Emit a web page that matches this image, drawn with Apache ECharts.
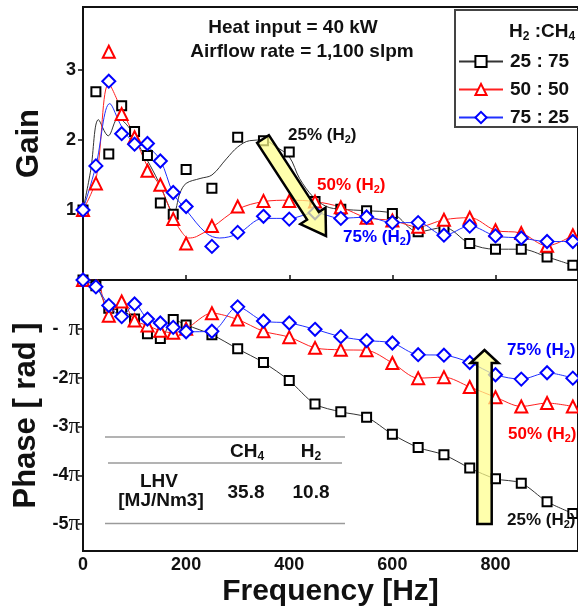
<!DOCTYPE html>
<html>
<head>
<meta charset="utf-8">
<script src="https://cdn.jsdelivr.net/npm/echarts@6/dist/echarts.min.js"></script>
<style>
  html, body { margin: 0; padding: 0; background: #fff; }
  #chart { width: 578px; height: 613px; }
</style>
</head>
<body>
<div id="chart"></div>
<script>
// Measured frequencies [Hz]
const freqs = [0, 25, 50, 75, 100, 125, 150, 175, 200, 250, 300, 350, 400, 450, 500, 550, 600, 650, 700, 750, 800, 850, 900, 950];

// Flame transfer function gain, one array per H2:CH4 ratio
const gain25 = [1.00, 2.69, 1.80, 2.49, 2.12, 1.78, 1.10, 0.94, 1.58, 1.31, 2.04, 1.99, 1.83, 1.12, 1.01, 0.99, 0.95, 0.69, 0.75, 0.52, 0.44, 0.44, 0.33, 0.21];
const gain50 = [1.00, 1.38, 3.26, 2.37, 2.04, 1.56, 1.36, 0.87, 0.52, 0.77, 1.05, 1.13, 1.13, 1.12, 1.04, 0.89, 0.85, 0.76, 0.86, 0.89, 0.71, 0.67, 0.49, 0.64];
const gain75 = [1.00, 1.63, 2.84, 2.09, 1.94, 1.95, 1.70, 1.25, 1.05, 0.48, 0.68, 0.91, 0.87, 0.96, 0.88, 0.90, 0.82, 0.82, 0.64, 0.77, 0.63, 0.60, 0.55, 0.55];

// Phase, in multiples of pi
const phase25 = [0, -0.12, -0.58, -0.62, -0.80, -1.10, -1.20, -0.81, -0.92, -1.12, -1.41, -1.69, -2.06, -2.54, -2.70, -2.81, -3.16, -3.43, -3.58, -3.85, -4.07, -4.16, -4.54, -4.78];
const phase50 = [0, 0.03, -0.73, -0.44, -0.83, -0.93, -1.04, -1.08, -1.00, -0.68, -0.81, -1.05, -1.17, -1.39, -1.43, -1.44, -1.70, -2.01, -1.99, -2.19, -2.40, -2.59, -2.52, -2.59];
const phase75 = [0, -0.14, -0.52, -0.75, -0.49, -0.80, -0.88, -0.97, -1.06, -1.05, -0.55, -0.84, -0.88, -1.01, -1.16, -1.24, -1.29, -1.53, -1.54, -1.69, -1.94, -2.03, -1.90, -2.01];

// Low-frequency fitted gain curves (the fit hands over to the measured points above fitEnd)
const fitFreq25 = [0, 15, 30, 49, 68, 90, 113, 130, 150, 168, 176, 188, 200, 227, 250, 278, 300, 323, 349, 375, 400, 420, 446, 472];
const fitGain25 = [1.00, 1.57, 2.29, 2.06, 2.31, 2.17, 1.86, 1.64, 1.35, 1.03, 0.96, 1.24, 1.38, 1.45, 1.50, 1.73, 1.90, 1.99, 2.00, 1.90, 1.76, 1.45, 1.19, 1.05];
const fitFreq50 = [0, 25, 50, 75, 100, 125, 150, 175, 190, 205, 220, 250, 300, 350, 400, 450];
const fitGain50 = [1.00, 1.43, 2.80, 2.43, 2.05, 1.62, 1.33, 0.90, 0.70, 0.60, 0.62, 0.75, 1.01, 1.12, 1.14, 1.12];
const fitFreq75 = [0, 25, 52, 75, 100, 125, 150, 175, 200, 239, 265, 300, 350, 400, 450];
const fitGain75 = [1.00, 1.63, 2.52, 2.19, 1.95, 1.90, 1.71, 1.24, 1.00, 0.67, 0.60, 0.66, 0.88, 0.88, 0.96];
const fitEnd = [472, 450, 450];

const seriesNames = ['25 : 75', '50 : 50', '75 : 25'];
const colors = ['#000000', '#ff0000', '#0000ff'];
const lineColors = ['#333333', '#ff2020', '#2030ff'];
const symbols = ['rect', 'triangle', 'diamond'];
const symbolSizes = [9, 12, 13];

const pairs = (xs, ys) => xs.map((x, i) => [x, ys[i]]);
const gains = [gain25, gain50, gain75];
const phases = [phase25, phase50, phase75];
const fits = [pairs(fitFreq25, fitGain25), pairs(fitFreq50, fitGain50), pairs(fitFreq75, fitGain75)];

const FONT = '"Liberation Sans", Arial, sans-serif';
const SERIF = '"Liberation Serif", "Times New Roman", serif';

const series = [];
// Phase lines with markers (first, so the legend takes its icons from them)
for (let k = 0; k < 3; k++) {
  series.push({
    name: seriesNames[k], type: 'line', xAxisIndex: 1, yAxisIndex: 1,
    data: pairs(freqs, phases[k]), smooth: 0.3,
    symbol: symbols[k], symbolSize: symbolSizes[k], showAllSymbol: true,
    lineStyle: { color: lineColors[k], width: 1 },
    itemStyle: { color: '#ffffff', borderColor: colors[k], borderWidth: 2 },
    z: 3 + k
  });
}
// Gain: fitted curve joined to the measured points
for (let k = 0; k < 3; k++) {
  const tail = pairs(freqs, gains[k]).filter(p => p[0] > fitEnd[k]);
  series.push({
    name: seriesNames[k], type: 'line', xAxisIndex: 0, yAxisIndex: 0,
    data: fits[k].concat(tail), smooth: 0.35, showSymbol: false,
    lineStyle: { color: lineColors[k], width: 1 }, z: 2
  });
}
// Gain: measured points
for (let k = 0; k < 3; k++) {
  series.push({
    name: seriesNames[k], type: 'scatter', xAxisIndex: 0, yAxisIndex: 0,
    data: pairs(freqs, gains[k]),
    symbol: symbols[k], symbolSize: symbolSizes[k],
    itemStyle: { color: '#ffffff', borderColor: colors[k], borderWidth: 2, opacity: 1 },
    z: 3 + k
  });
}

const tickLabel = { fontFamily: FONT, fontWeight: 'bold', fontSize: 18, color: '#111' };

// Text "NN% (H2)" with subscript
function pctLabel(x, y, pct, color) {
  return {
    type: 'text', left: x, top: y - 10, z: 20,
    style: {
      text: '{t|' + pct + '% (H}{s|2}{t|)}',
      rich: {
        t: { fontFamily: FONT, fontWeight: 'bold', fontSize: 17, fill: color, lineHeight: 20 },
        s: { fontFamily: FONT, fontWeight: 'bold', fontSize: 11, fill: color, lineHeight: 13, verticalAlign: 'bottom' }
      }
    }
  };
}

// Block arrow polygon from tail (sx,sy) to tip (tx,ty)
function arrowPoints(sx, sy, tx, ty, half, headHalf, headLen) {
  const dx = tx - sx, dy = ty - sy, L = Math.hypot(dx, dy);
  const ux = dx / L, uy = dy / L, nx = uy, ny = -ux;
  const bx = tx - headLen * ux, by = ty - headLen * uy;
  return [
    [sx + half * nx, sy + half * ny], [bx + half * nx, by + half * ny],
    [bx + headHalf * nx, by + headHalf * ny], [tx, ty],
    [bx - headHalf * nx, by - headHalf * ny], [bx - half * nx, by - half * ny],
    [sx - half * nx, sy - half * ny]
  ];
}
const arrowStyle = { fill: 'rgba(255,255,140,0.72)', stroke: '#000', lineWidth: 2.5, lineJoin: 'miter' };

const tableText = (x, y, txt, extra) => ({
  type: 'text', x: x, y: y, z: 20,
  style: Object.assign({ text: txt, fontFamily: FONT, fontWeight: 'bold', fontSize: 19, fill: '#111', align: 'center', verticalAlign: 'middle' }, extra || {})
});
const tableLine = (x1, x2, y) => ({
  type: 'line', z: 15, shape: { x1: x1, y1: y, x2: x2, y2: y }, style: { stroke: '#9a9a9a', lineWidth: 1.5 }
});
const subRich = {
  b: { fontFamily: FONT, fontWeight: 'bold', fontSize: 19, fill: '#111', lineHeight: 22 },
  s: { fontFamily: FONT, fontWeight: 'bold', fontSize: 12, fill: '#111', lineHeight: 14, verticalAlign: 'bottom' }
};

const option = {
  animation: false,
  backgroundColor: '#ffffff',
  grid: [
    { left: 83, right: -1, top: 7, height: 273, show: true, borderColor: '#111', borderWidth: 2, backgroundColor: 'transparent' },
    { left: 83, right: -1, top: 280, height: 271, show: true, borderColor: '#111', borderWidth: 2, backgroundColor: 'transparent' }
  ],
  xAxis: [
    { gridIndex: 0, type: 'value', min: 0, max: 960, interval: 200,
      axisLine: { show: false }, splitLine: { show: false },
      axisTick: { show: true, inside: true, length: 5, lineStyle: { color: '#111', width: 1.5 } },
      axisLabel: { show: false } },
    { gridIndex: 1, type: 'value', min: 0, max: 960, interval: 200,
      axisLine: { show: false }, splitLine: { show: false },
      axisTick: { show: true, inside: true, length: 5, lineStyle: { color: '#111', width: 1.5 } },
      axisLabel: Object.assign({ margin: 5, showMaxLabel: false }, tickLabel),
      name: 'Frequency [Hz]', nameLocation: 'middle', nameGap: 26,
      nameTextStyle: { fontFamily: FONT, fontWeight: 'bold', fontSize: 30, color: '#111' } }
  ],
  yAxis: [
    { gridIndex: 0, type: 'value', min: 0, max: 3.9,
      axisLine: { show: false }, splitLine: { show: false },
      axisTick: { show: true, inside: false, length: 5, customValues: [1, 2, 3], lineStyle: { color: '#111', width: 1.5 } },
      axisLabel: Object.assign({ margin: 7, customValues: [1, 2, 3] }, tickLabel),
      name: 'Gain', nameLocation: 'middle', nameGap: 38, nameRotate: 90,
      nameTextStyle: { fontFamily: FONT, fontWeight: 'bold', fontSize: 31, color: '#111' } },
    { gridIndex: 1, type: 'value', min: -5.55, max: 0,
      axisLine: { show: false }, splitLine: { show: false },
      axisTick: { show: true, inside: false, length: 5, customValues: [-5, -4, -3, -2, -1], lineStyle: { color: '#111', width: 1.5 } },
      axisLabel: {
        margin: 3, customValues: [-5, -4, -3, -2, -1],
        formatter: v => (Math.round(v) === -1 ? '{m|-  }{p|π}' : '{m|' + Math.round(v) + '}{p|π}'),
        rich: {
          m: { fontFamily: FONT, fontWeight: 'bold', fontSize: 18, color: '#111' },
          p: { fontFamily: SERIF, fontSize: 23, color: '#111' }
        }
      },
      name: 'Phase [ rad ]', nameLocation: 'middle', nameGap: 37, nameRotate: 90,
      nameTextStyle: { fontFamily: FONT, fontWeight: 'bold', fontSize: 31, color: '#111' } }
  ],
  legend: {
    data: seriesNames, orient: 'vertical', left: 453, top: 47, z: 30,
    itemWidth: 44, itemHeight: 14, itemGap: 9,
    textStyle: { fontFamily: FONT, fontWeight: 'bold', fontSize: 19, color: '#111', lineHeight: 18, padding: [0, 0, 0, 2] },
    selectedMode: false
  },
  graphic: [
    // legend frame and heading
    { type: 'rect', z: 1, shape: { x: 455, y: 10, width: 140, height: 117 }, style: { fill: '#fff', stroke: '#444', lineWidth: 2 } },
    { type: 'text', left: 509, top: 22, z: 20, style: { text: '{b|H}{s|2}{b| :CH}{s|4}', rich: subRich } },
    // operating conditions
    { type: 'text', x: 293, y: 28, z: 20, style: { text: 'Heat input = 40 kW', fontFamily: FONT, fontWeight: 'bold', fontSize: 19, fill: '#111', align: 'center', verticalAlign: 'middle' } },
    { type: 'text', x: 302, y: 52, z: 20, style: { text: 'Airflow rate = 1,100 slpm', fontFamily: FONT, fontWeight: 'bold', fontSize: 19, fill: '#111', align: 'center', verticalAlign: 'middle' } },
    // trend arrows
    { type: 'polygon', z: 12, shape: { points: arrowPoints(263, 139, 326, 236, 7, 15, 24) }, style: arrowStyle },
    { type: 'polygon', z: 12, shape: { points: arrowPoints(484.5, 524, 484.5, 350, 7.2, 14, 13) }, style: arrowStyle },
    // hydrogen-fraction labels
    pctLabel(288, 137, 25, '#111'),
    pctLabel(317, 187, 50, '#ff0000'),
    pctLabel(343, 239, 75, '#0000ff'),
    pctLabel(507, 352, 75, '#0000ff'),
    pctLabel(508, 436, 50, '#ff0000'),
    pctLabel(507, 522, 25, '#111'),
    // heating-value table
    tableLine(105, 345, 437),
    tableLine(108, 342, 463),
    tableLine(105, 345, 523.5),
    { type: 'text', x: 247, y: 452, z: 20, style: { text: '{b|CH}{s|4}', align: 'center', verticalAlign: 'middle', rich: subRich } },
    { type: 'text', x: 311, y: 452, z: 20, style: { text: '{b|H}{s|2}', align: 'center', verticalAlign: 'middle', rich: subRich } },
    tableText(159, 482, 'LHV'),
    tableText(161, 501, '[MJ/Nm3]'),
    tableText(246, 493, '35.8'),
    tableText(311, 493, '10.8')
  ],
  series: series
};

const chart = echarts.init(document.getElementById('chart'), null, { renderer: 'canvas' });
chart.setOption(option);
</script>
</body>
</html>
